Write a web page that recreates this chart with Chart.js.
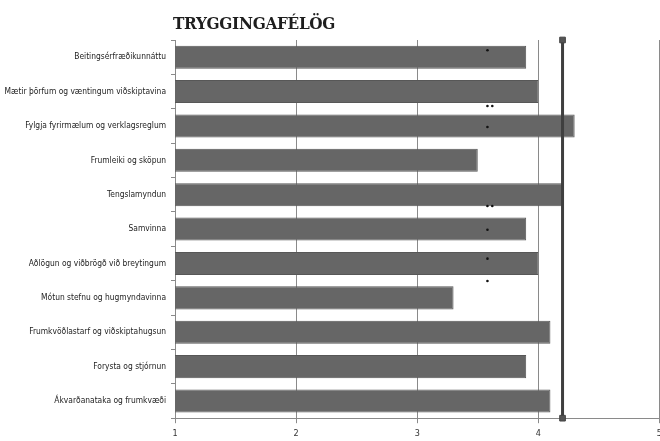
<!DOCTYPE html>
<html>
<head>
<meta charset="utf-8">
<script src="https://cdn.jsdelivr.net/npm/chart.js@4"></script>
<style>
  html, body { margin: 0; padding: 0; background: #fff; overflow: hidden; }
  #wrap { position: relative; width: 667px; height: 446px; }
  #titill {
    position: absolute; left: 173px; top: 13px; margin: 0;
    font: bold 17px/20px "DejaVu Serif Condensed", "DejaVu Serif", serif;
    letter-spacing: -0.3px; color: #1e1e1e; white-space: nowrap;
  }
</style>
</head>
<body>
<div id="wrap">
  <h1 id="titill">TRYGGINGAFÉLÖG</h1>
  <canvas id="hæfni"></canvas>
</div>
<script>
// hæfniþættir og meðaleinkunn tryggingafélaga
var categories = [
    'Beitingsérfræðikunnáttu',
    'Mætir þörfum og væntingum viðskiptavina',
    'Fylgja fyrirmælum og verklagsreglum',
    'Frumleiki og sköpun',
    'Tengslamyndun',
    'Samvinna',
    'Aðlögun og viðbrögð við breytingum',
    'Mótun stefnu og hugmyndavinna',
    'Frumkvöðlastarf og viðskiptahugsun',
    'Forysta og stjórnun',
    'Ákvarðanataka og frumkvæði'
];
var scores = [3.9, 4.0, 4.3, 3.5, 4.2, 3.9, 4.0, 3.3, 4.1, 3.9, 4.1];

// heildarmeðaltal (lóðrétta línan)
var overall = 4.2;

// marktektarstjörnur: staða á kvarða og í röð flokka
var starX = [3.58, 3.58, 3.62, 3.58, 3.58, 3.62, 3.58, 3.58, 3.58];
var starRow = [-0.2, 1.42, 1.42, 2.03, 4.33, 4.33, 5.02, 5.86, 6.51];

var xTicks = [1, 2, 3, 4, 5];

var stars = starX.map(function (x, i) { return { x: x, y: starRow[i] }; });
var lastRow = categories.length - 0.5;

var labelFont = { family: '"Liberation Sans Narrow", "DejaVu Sans Condensed", sans-serif', size: 8.4 };

var ctx = document.getElementById('hæfni');
var chart = new Chart(ctx, {
    data: {
        labels: categories,
        datasets: [{
            type: 'bar',
            indexAxis: 'y',
            data: scores,
            xAxisID: 'x',
            yAxisID: 'y',
            backgroundColor: '#666666',
            borderColor: '#575757',
            borderWidth: 1,
            categoryPercentage: 1,
            barPercentage: 0.67,
            order: 3
        }, {
            type: 'scatter',
            data: [{ x: overall, y: -0.5 }, { x: overall, y: lastRow }],
            xAxisID: 'x',
            yAxisID: 'yMark',
            showLine: true,
            borderColor: '#3f3f3f',
            borderWidth: 3,
            pointStyle: 'rect',
            pointRadius: 4,
            pointBackgroundColor: '#555555',
            pointBorderColor: '#444444',
            pointBorderWidth: 1,
            clip: false,
            order: 1
        }, {
            type: 'scatter',
            data: stars,
            xAxisID: 'x',
            yAxisID: 'yMark',
            pointRadius: 1.3,
            pointBackgroundColor: '#111',
            pointBorderWidth: 0,
            order: 0
        }]
    },
    options: {
        responsive: true,
        maintainAspectRatio: false,
        animation: false,
        layout: {
            padding: { left: 0, right: 5, top: 40, bottom: 2 }
        },
        plugins: {
            legend: { display: false },
            tooltip: { enabled: false },
            title: { display: false }
        },
        scales: {
            x: {
                type: 'linear',
                min: 1,
                max: 5,
                afterBuildTicks: function (scale) {
                    scale.ticks = xTicks.map(function (v) { return { value: v }; });
                },
                border: { color: '#8a8a8a', width: 1 },
                grid: { color: '#8a8a8a', lineWidth: 1, tickLength: 5 },
                ticks: { color: '#333', padding: 5, font: { family: labelFont.family, size: 9 } }
            },
            y: {
                type: 'category',
                offset: true,
                afterFit: function (scale) { scale.width = 175; },
                border: { color: '#8a8a8a', width: 1 },
                grid: { offset: true, drawOnChartArea: false, color: '#8a8a8a', tickLength: 4 },
                ticks: { color: '#222', padding: 5, font: labelFont }
            },
            yMark: {
                type: 'linear',
                display: false,
                reverse: true,
                min: -0.5,
                max: lastRow
            }
        }
    }
});
</script>
</body>
</html>
